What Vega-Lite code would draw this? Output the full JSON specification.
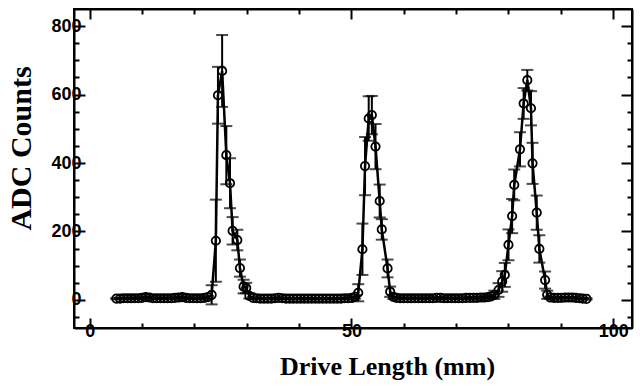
{
  "$schema": "https://vega.github.io/schema/vega-lite/v6.json",
  "width": 558,
  "height": 319,
  "autosize": {"type": "none"},
  "padding": {"left": 74, "top": 9, "right": 8, "bottom": 58},
  "background": "white",
  "config": {
    "view": {"stroke": "black", "strokeWidth": 2},
    "axis": {"grid": false, "domainColor": "black", "domainWidth": 2, "tickColor": "black", "tickWidth": 2, "labelColor": "black", "titleColor": "black"}
  },
  "data": {"values": [
    {"x":5.1,"y":4,"e":2},{"x":5.8,"y":4,"e":2},{"x":6.5,"y":5,"e":2},{"x":7.2,"y":5,"e":2},{"x":7.9,"y":5,"e":2},{"x":8.6,"y":5,"e":2},{"x":9.3,"y":5,"e":2},{"x":10.0,"y":6,"e":2},{"x":10.7,"y":8,"e":3},{"x":11.4,"y":7,"e":3},{"x":12.1,"y":5,"e":2},{"x":12.8,"y":5,"e":2},{"x":13.5,"y":5,"e":2},{"x":14.2,"y":5,"e":2},{"x":14.9,"y":5,"e":2},{"x":15.6,"y":5,"e":2},{"x":16.3,"y":6,"e":2},{"x":17.0,"y":7,"e":3},{"x":17.7,"y":8,"e":3},{"x":18.4,"y":6,"e":2},{"x":19.1,"y":5,"e":2},{"x":19.8,"y":5,"e":2},{"x":20.5,"y":5,"e":2},{"x":21.2,"y":5,"e":2},{"x":21.9,"y":6,"e":3},{"x":22.6,"y":8,"e":4},
    {"x":23.3,"y":15,"e":28},{"x":24.1,"y":173,"e":120},{"x":24.5,"y":598,"e":83},{"x":25.3,"y":669,"e":105},{"x":26.1,"y":423,"e":85},{"x":26.8,"y":341,"e":73},{"x":27.3,"y":202,"e":40},{"x":28.2,"y":175,"e":30},{"x":28.7,"y":93,"e":25},{"x":29.4,"y":39,"e":20},{"x":29.9,"y":35,"e":15},{"x":30.5,"y":12,"e":8},
    {"x":31.2,"y":6,"e":3},{"x":31.9,"y":5,"e":2},{"x":32.6,"y":4,"e":2},{"x":33.3,"y":4,"e":2},{"x":34.0,"y":4,"e":2},{"x":34.7,"y":4,"e":2},{"x":35.4,"y":5,"e":2},{"x":36.1,"y":6,"e":2},{"x":36.8,"y":5,"e":2},{"x":37.5,"y":4,"e":2},{"x":38.2,"y":4,"e":2},{"x":38.9,"y":4,"e":2},{"x":39.6,"y":4,"e":2},{"x":40.3,"y":4,"e":2},{"x":41.0,"y":4,"e":2},{"x":41.7,"y":4,"e":2},{"x":42.4,"y":4,"e":2},{"x":43.1,"y":4,"e":2},{"x":43.8,"y":4,"e":2},{"x":44.5,"y":4,"e":2},{"x":45.2,"y":4,"e":2},{"x":45.9,"y":4,"e":2},{"x":46.6,"y":4,"e":2},{"x":47.3,"y":4,"e":2},{"x":48.0,"y":4,"e":2},{"x":48.7,"y":5,"e":2},{"x":49.4,"y":5,"e":2},{"x":50.1,"y":6,"e":3},{"x":50.7,"y":9,"e":5},
    {"x":51.3,"y":21,"e":25},{"x":52.1,"y":148,"e":75},{"x":52.6,"y":391,"e":85},{"x":53.3,"y":530,"e":65},{"x":53.9,"y":540,"e":56},{"x":54.6,"y":448,"e":66},{"x":55.4,"y":289,"e":48},{"x":55.8,"y":206,"e":30},{"x":56.9,"y":92,"e":26},{"x":57.4,"y":24,"e":15},{"x":58.0,"y":9,"e":6},
    {"x":58.6,"y":6,"e":2},{"x":59.3,"y":5,"e":2},{"x":60.0,"y":5,"e":2},{"x":60.7,"y":5,"e":2},{"x":61.4,"y":5,"e":2},{"x":62.1,"y":5,"e":2},{"x":62.8,"y":5,"e":2},{"x":63.5,"y":5,"e":2},{"x":64.2,"y":5,"e":2},{"x":64.9,"y":5,"e":2},{"x":65.6,"y":5,"e":2},{"x":66.3,"y":6,"e":2},{"x":67.0,"y":6,"e":2},{"x":67.7,"y":5,"e":2},{"x":68.4,"y":5,"e":2},{"x":69.1,"y":5,"e":2},{"x":69.8,"y":5,"e":2},{"x":70.5,"y":5,"e":2},{"x":71.2,"y":5,"e":2},{"x":71.9,"y":6,"e":2},{"x":72.6,"y":6,"e":2},{"x":73.3,"y":6,"e":2},{"x":74.0,"y":6,"e":2},{"x":74.7,"y":7,"e":3},{"x":75.4,"y":7,"e":3},{"x":76.1,"y":8,"e":3},{"x":76.7,"y":10,"e":5},
    {"x":77.3,"y":15,"e":12},{"x":78.1,"y":29,"e":20},{"x":78.8,"y":54,"e":30},{"x":79.3,"y":73,"e":35},{"x":80.0,"y":161,"e":45},{"x":80.7,"y":245,"e":50},{"x":81.1,"y":336,"e":45},{"x":82.2,"y":440,"e":50},{"x":82.9,"y":574,"e":45},{"x":83.6,"y":642,"e":30},{"x":84.3,"y":560,"e":50},{"x":84.6,"y":399,"e":60},{"x":85.4,"y":255,"e":50},{"x":85.9,"y":149,"e":40},{"x":87.0,"y":58,"e":25},{"x":87.4,"y":15,"e":12},
    {"x":88.0,"y":7,"e":3},{"x":88.7,"y":6,"e":2},{"x":89.4,"y":6,"e":2},{"x":90.1,"y":6,"e":2},{"x":90.8,"y":7,"e":2},{"x":91.5,"y":7,"e":2},{"x":92.2,"y":7,"e":2},{"x":92.9,"y":6,"e":2},{"x":93.6,"y":5,"e":2},{"x":94.2,"y":4,"e":2},{"x":94.9,"y":3,"e":2}
  ]},
  "layer": [
    {
      "mark": {"type": "errorbar", "color": "black", "thickness": 2, "ticks": {"size": 12, "thickness": 2, "color": "black"}},
      "encoding": {
        "x": {"field": "x", "type": "quantitative", "scale": {"domain": [-3, 103.6], "nice": false, "zero": false}, "axis": null},
        "y": {"field": "y", "type": "quantitative", "scale": {"domain": [-82, 850], "nice": false, "zero": false}, "axis": null},
        "yError": {"field": "e"}
      }
    },
    {
      "mark": {"type": "line", "color": "black", "strokeWidth": 2.5},
      "encoding": {
        "x": {"field": "x", "type": "quantitative", "scale": {"domain": [-3, 103.6], "nice": false, "zero": false},
          "axis": {"orient": "bottom", "values": [0,10,20,30,40,50,60,70,80,90,100], "labelExpr": "datum.value % 50 === 0 ? datum.label : ''",
            "tickSize": {"condition": {"test": "datum.value % 50 === 0", "value": -10}, "value": -5},
            "labelFont": "Liberation Sans", "labelFontWeight": "bold", "labelFontSize": 18, "labelPadding": 4,
            "title": "Drive Length (mm)", "titleFont": "Liberation Serif", "titleFontWeight": "bold", "titleFontSize": 26,
            "titleX": 313, "titleY": 46, "titleAlign": "center", "titleBaseline": "alphabetic"}},
        "y": {"field": "y", "type": "quantitative", "scale": {"domain": [-82, 850], "nice": false, "zero": false},
          "axis": {"orient": "left", "values": [-50,0,50,100,150,200,250,300,350,400,450,500,550,600,650,700,750,800], "labelExpr": "datum.value % 200 === 0 ? datum.label : ''",
            "tickSize": {"condition": {"test": "datum.value % 200 === 0", "value": -11}, "value": -5},
            "labelFont": "Liberation Sans", "labelFontWeight": "bold", "labelFontSize": 18, "labelPadding": 4,
            "title": "ADC Counts", "titleFont": "Liberation Serif", "titleFontWeight": "bold", "titleFontSize": 30,
            "titleX": -53, "titleY": 139, "titleAlign": "center", "titleBaseline": "middle", "titleAngle": -90}}
      }
    },
    {
      "mark": {"type": "point", "shape": "circle", "size": 70, "filled": false, "stroke": "black", "strokeWidth": 1.8, "opacity": 1},
      "encoding": {
        "x": {"field": "x", "type": "quantitative", "axis": null},
        "y": {"field": "y", "type": "quantitative", "axis": null}
      }
    },
    {
      "mark": {"type": "point", "opacity": 0},
      "encoding": {
        "x": {"field": "x", "type": "quantitative",
          "axis": {"orient": "top", "values": [0,10,20,30,40,50,60,70,80,90,100], "labels": false, "title": null,
            "tickSize": {"condition": {"test": "datum.value % 50 === 0", "value": -10}, "value": -5}}},
        "y": {"field": "y", "type": "quantitative",
          "axis": {"orient": "right", "values": [-50,0,50,100,150,200,250,300,350,400,450,500,550,600,650,700,750,800], "labels": false, "title": null,
            "tickSize": {"condition": {"test": "datum.value % 200 === 0", "value": -11}, "value": -5}}}
      }
    }
  ],
  "resolve": {"axis": {"x": "independent", "y": "independent"}}
}
